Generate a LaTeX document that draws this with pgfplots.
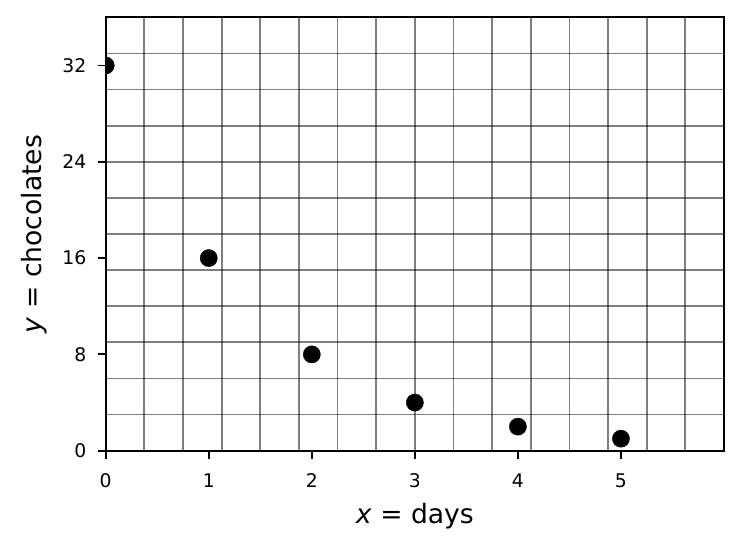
\documentclass[border=0pt]{standalone}
\usepackage{fontspec}
\setmainfont{DejaVu Sans}
\usepackage{pgfplots}
\pgfplotsset{compat=1.18}

\begin{document}
\begin{tikzpicture}
\path[use as bounding box] (-52.85bp,-49.65bp) rectangle (318.65bp,225.35bp);
\begin{axis}[
    at={(0,0)}, anchor=south west,
    scale only axis,
    width=309.15bp, height=216.7bp,
    xmin=0, xmax=6, ymin=0, ymax=36,
    xtick={0,1,2,3,4,5},
    ytick={0,8,16,24,32},
    minor xtick={0.375,0.75,...,5.7},
    minor ytick={3,6,...,33},
    minor tick length=0pt,
    major tick length=4bp,
    tick align=outside,
    xtick pos=bottom, ytick pos=left,
    grid=minor,
    minor grid style={black, opacity=0.5, line width=0.9bp},
    axis line style={line width=0.9bp},
    every tick/.style={black, line width=0.9bp},
    clip marker paths=true,
    /pgf/number format/assume math mode=true,
    tick label style={font=\fontsize{9.4bp}{10bp}\selectfont, inner sep=0pt},
    xticklabel style={anchor=north, yshift=-7.3bp},
    yticklabel style={anchor=east, xshift=-5.5bp},
    label style={font=\fontsize{13.3bp}{15bp}\selectfont, inner sep=0pt},
    xlabel={\textit{x} = days},
    ylabel={\textit{y} = chocolates},
    xlabel style={at={([yshift=-36.6bp]axis description cs:0.5,0)}, anchor=base},
    ylabel style={at={([xshift=-32.3bp]axis description cs:0,0.5)}, anchor=base},
]
\addplot[only marks, mark=*, mark size=4.3bp, color=black,
    mark options={line width=0.2bp}] coordinates {
    (0,32) (1,16) (2,8) (3,4) (4,2) (5,1)
};
\end{axis}
\end{tikzpicture}
\end{document}
